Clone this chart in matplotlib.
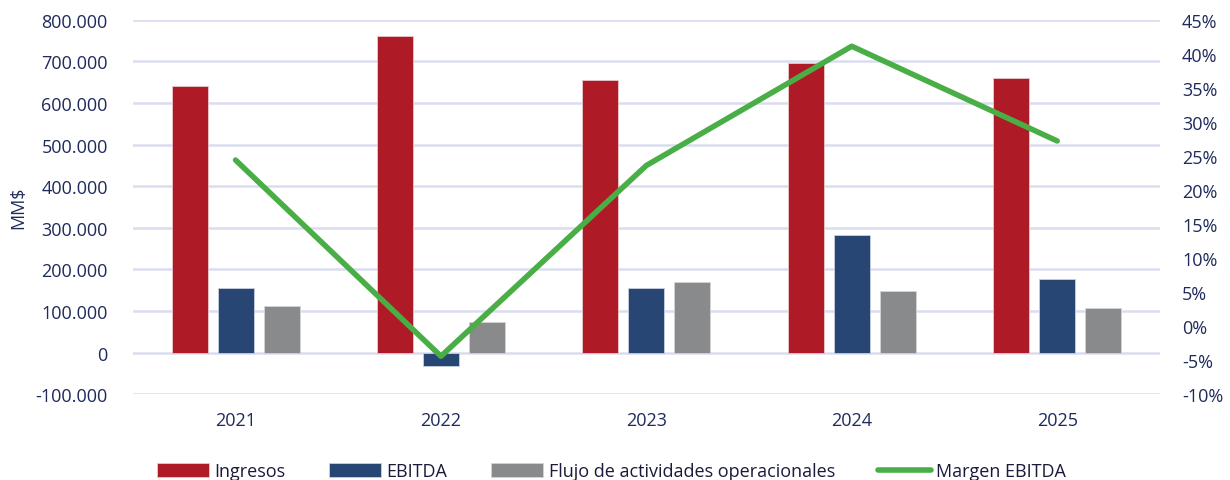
import numpy as np
import matplotlib
matplotlib.use("Agg")
from matplotlib import pyplot as plt
from matplotlib.ticker import FuncFormatter, MultipleLocator

# datos (MM$ y %)
years = ["2021", "2022", "2023", "2024", "2025"]
ingresos = [641000, 760000, 656000, 697000, 659000]
ebitda = [155000, -32000, 155000, 284000, 176000]
flujo = [112000, 75000, 169000, 148000, 107000]
margen = [24.4, -4.4, 23.6, 41.1, 27.2]

c_ing = "#AE1A25"
c_ebi = "#284673"
c_flu = "#898A8C"
c_mar = "#4AAE46"
c_txt = "#1F2A5C"

plt.rcParams['font.family'] = ['Open Sans', 'DejaVu Sans']

fig = plt.figure(figsize=(12.3, 4.81), dpi=100)
ax = fig.add_axes([0.108, 0.178, 0.835, 0.779])
ax2 = ax.twinx()

x = np.arange(len(years))
w = 0.175
off = 0.224
ax.bar(x - off, ingresos, w, color=c_ing, edgecolor="#E8C8CC", linewidth=0.6, label="Ingresos", zorder=2)
ax.bar(x, ebitda, w, color=c_ebi, edgecolor="#C8D0E0", linewidth=0.6, label="EBITDA", zorder=2)
ax.bar(x + off, flujo, w, color=c_flu, edgecolor="#D4D4D6", linewidth=0.6, label="Flujo de actividades operacionales", zorder=2)
ax2.plot(x, margen, color=c_mar, linewidth=4, solid_capstyle="round", label="Margen EBITDA", zorder=3)

ax.set_xlim(-0.5, 4.5)
ax.set_ylim(-100000, 800000)
ax2.set_ylim(-10, 45)
ax.yaxis.set_major_locator(MultipleLocator(100000))
ax2.yaxis.set_major_locator(MultipleLocator(5))
ax.yaxis.set_major_formatter(FuncFormatter(lambda v, p: "{:,.0f}".format(v).replace(",", ".")))
ax2.yaxis.set_major_formatter(FuncFormatter(lambda v, p: "{:.0f}%".format(v)))

ax.grid(axis="y", color="#DADDEE", linewidth=1.8, zorder=0)
ax.set_axisbelow(True)
for a in (ax, ax2):
    for s in a.spines.values():
        s.set_visible(False)
    a.tick_params(length=0, labelsize=13, colors=c_txt)
ax.tick_params(axis="y", pad=18)
ax2.tick_params(axis="y", pad=16)
ax.tick_params(axis="x", pad=12)
ax.set_xticks(x)
ax.set_xticklabels(years)
ax.set_ylabel("MM$", fontsize=13, color=c_txt, labelpad=6)

h1, l1 = ax.get_legend_handles_labels()
h2, l2 = ax2.get_legend_handles_labels()
fig.legend(h1 + h2, l1 + l2, loc="center", bbox_to_anchor=(0.497, 0.018), ncol=4,
           frameon=False, fontsize=13, handlelength=2.9, handleheight=0.75,
           handletextpad=0.3, columnspacing=2.4, labelcolor="#1A1A3A")

fig.savefig("out.png", dpi=100)
